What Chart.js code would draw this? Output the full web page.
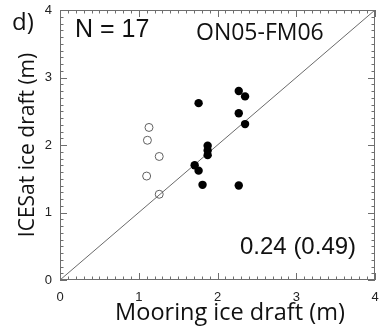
<!DOCTYPE html>
<html>
<head>
<meta charset="utf-8">
<script src="https://cdn.jsdelivr.net/npm/chart.js@4"></script>
<style>
  html, body { margin: 0; padding: 0; background: #fff; }
  canvas { display: block; }
</style>
</head>
<body>
<canvas id="ice-chart" width="380" height="332"></canvas>
<script>
// data (m)
const mooringFilled = [2.27, 2.35, 1.76, 2.27, 2.35, 1.875, 1.875, 1.875, 1.71, 1.76, 1.81, 2.27];
const icesatFilled = [2.80, 2.72, 2.62, 2.47, 2.31, 1.99, 1.92, 1.85, 1.70, 1.62, 1.41, 1.40];
const mooringOpen = [1.13, 1.11, 1.26, 1.10, 1.26];
const icesatOpen = [2.26, 2.07, 1.83, 1.54, 1.27];
const oneToOne = [0, 4];
const tickLabels = ["0", "1", "2", "3", "4"];

const canvas = document.querySelector("#ice-chart");
const ctx = canvas.getContext("2d");

const axisGrey = "#6e6e6e";
const humanist = "'Open Sans', 'Noto Sans', sans-serif";
const helv = "'Liberation Sans', Arial, sans-serif";

// IDL style box with inward ticks + labels inside the plot
const idlPlugin = {
  id: "idlBox",
  afterDraw(chart) {
    const { ctx, chartArea: a, scales: { x, y } } = chart;
    ctx.save();
    ctx.strokeStyle = axisGrey;
    ctx.lineWidth = 1;
    ctx.strokeRect(a.left + 0.5, a.top + 0.5, a.right - a.left - 1, a.bottom - a.top - 1);
    ctx.beginPath();
    for (let i = 0; i <= 40; i++) {
      const v = i / 10;
      const len = i % 10 == 0 ? 7 : 3.5;
      const px = Math.round(x.getPixelForValue(v)) + 0.5;
      ctx.moveTo(px, a.bottom); ctx.lineTo(px, a.bottom - len);
      ctx.moveTo(px, a.top); ctx.lineTo(px, a.top + len);
      const py = Math.round(y.getPixelForValue(v)) + 0.5;
      ctx.moveTo(a.left, py); ctx.lineTo(a.left + len, py);
      ctx.moveTo(a.right, py); ctx.lineTo(a.right - len, py);
    }
    ctx.stroke();

    ctx.fillStyle = "#111";
    ctx.textBaseline = "alphabetic";
    ctx.textAlign = "left";
    ctx.font = "24px " + humanist;
    ctx.fillText("d)", 12, 30);
    ctx.font = "25px " + helv;
    ctx.fillText("N = 17", 75, 37);
    ctx.font = "23px " + humanist;
    ctx.fillText("ON05-FM06", 196, 40);
    ctx.font = "24px " + helv;
    ctx.fillText("0.24 (0.49)", 240, 254);
    ctx.font = "23.5px " + humanist;
    ctx.textAlign = "center";
    ctx.fillText("Mooring ice draft (m)", 230, 320);
    ctx.restore();
  },
};

new Chart(ctx, {
  type: "scatter",
  data: {
    datasets: [
      {
        label: "filled",
        data: mooringFilled.map((v, i) => ({ x: v, y: icesatFilled[i] })),
        backgroundColor: "#000",
        borderColor: "#000",
        pointRadius: 4.2,
        borderWidth: 0,
        order: 1,
      },
      {
        label: "open",
        data: mooringOpen.map((v, i) => ({ x: v, y: icesatOpen[i] })),
        backgroundColor: "rgba(255,255,255,0)",
        borderColor: "#606060",
        pointRadius: 4,
        borderWidth: 1,
        order: 2,
      },
      {
        label: "1:1",
        type: "line",
        data: oneToOne.map((v) => ({ x: v, y: v })),
        borderColor: "#6a6a6a",
        borderWidth: 1,
        pointRadius: 0,
        fill: false,
        order: 3,
      },
    ],
  },
  options: {
    responsive: false,
    animation: false,
    events: [],
    layout: { padding: { top: 10, right: 2, left: 0, bottom: 0 } },
    plugins: { legend: { display: false }, tooltip: { enabled: false } },
    scales: {
      x: {
        type: "linear",
        min: 0,
        max: 4,
        grid: { display: false, drawTicks: false },
        border: { display: false },
        ticks: {
          stepSize: 1,
          autoSkip: false,
          maxRotation: 0,
          padding: 10,
          color: "#222",
          font: { family: helv, size: 13 },
          callback: (value, index) => tickLabels[index],
        },
        afterFit: (scale) => {
          scale.height = 52;
          scale.paddingLeft = 0;
          scale.paddingRight = 0;
        },
      },
      y: {
        type: "linear",
        min: 0,
        max: 4,
        grid: { display: false, drawTicks: false },
        border: { display: false },
        ticks: {
          stepSize: 1,
          autoSkip: false,
          padding: 8,
          color: "#222",
          font: { family: helv, size: 13 },
          callback: (value, index) => tickLabels[index],
        },
        title: {
          display: true,
          text: "ICESat ice draft (m)",
          color: "#111",
          font: { family: humanist, size: 21 },
          padding: { top: 15, bottom: 0 },
        },
        afterFit: (scale) => {
          scale.width = 60;
          scale.paddingTop = 0;
          scale.paddingBottom = 0;
        },
      },
    },
  },
  plugins: [idlPlugin],
});
</script>
</body>
</html>
